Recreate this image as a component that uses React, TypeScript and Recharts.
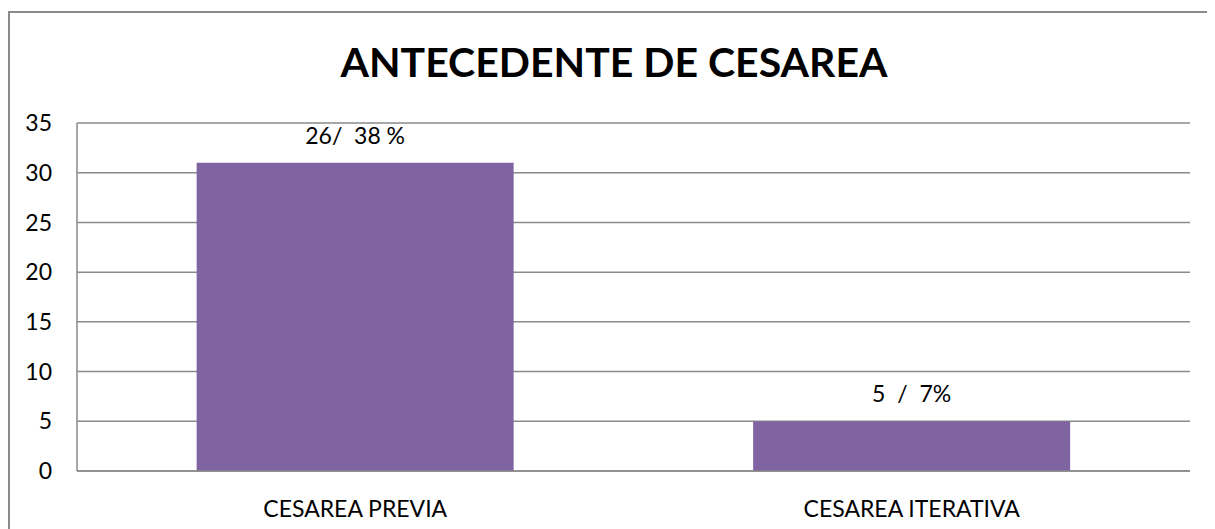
import React from "react";
import {
  BarChart,
  Bar,
  XAxis,
  YAxis,
  CartesianGrid,
  LabelList,
} from "recharts";

const categories = ["CESAREA PREVIA", "CESAREA ITERATIVA"];
const values = [31, 5];
const barLabels = ["26/  38 %", "5  /  7%"];
const yTicks = [0, 5, 10, 15, 20, 25, 30, 35];

const data = categories.map((name, i) => ({
  name,
  value: values[i],
  label: barLabels[i],
}));

const FONT = "Lato, 'Open Sans', sans-serif";
const GRID = "#8a8a8a";
const FS = 23;

// keeps the double spaces of the original labels
function BarValueLabel(props: any) {
  const { x, y, width, value } = props;
  return (
    <text
      x={Number(x) + Number(width) / 2}
      y={Number(y) - 19}
      textAnchor="middle"
      fill="#000"
      fontSize={FS}
      fontFamily={FONT}
      xmlSpace="preserve"
      style={{ whiteSpace: "pre" }}
    >
      {value}
    </text>
  );
}

export default function App() {
  return (
    <div
      style={{
        position: "relative",
        width: 1207,
        height: 521,
        fontFamily: FONT,
      }}
    >
      <div
        style={{
          position: "absolute",
          left: 0,
          top: 3,
          width: 1207,
          height: 518,
          borderLeft: `2px solid ${GRID}`,
          borderTop: `2px solid ${GRID}`,
          boxSizing: "border-box",
        }}
      />
      <div
        style={{
          position: "absolute",
          left: 0,
          width: 1212,
          top: 30,
          textAlign: "center",
          fontWeight: 700,
          fontSize: 41,
          lineHeight: "48px",
          color: "#000",
        }}
      >
        ANTECEDENTE DE CESAREA
      </div>
      <BarChart
        width={1207}
        height={521}
        data={data}
        margin={{ top: 115, right: 25, bottom: 0, left: 0 }}
        barCategoryGap="21.5%"
        style={{ position: "absolute", left: 0, top: 0 }}
      >
        <CartesianGrid vertical={false} stroke={GRID} strokeWidth={1.5} />
        <XAxis
          dataKey="name"
          height={58}
          tickLine={false}
          tickSize={0}
          tickMargin={30}
          axisLine={{ stroke: GRID, strokeWidth: 1.5 }}
          tick={{ fill: "#000", fontSize: FS, fontFamily: FONT }}
        />
        <YAxis
          width={69}
          domain={[0, 35]}
          ticks={yTicks}
          interval={0}
          tickLine={false}
          tickSize={0}
          tickMargin={25}
          axisLine={{ stroke: GRID, strokeWidth: 1.5 }}
          tick={{ fill: "#000", fontSize: FS, fontFamily: FONT }}
        />
        <Bar dataKey="value" fill="#8064A2" isAnimationActive={false}>
          <LabelList dataKey="label" content={BarValueLabel} />
        </Bar>
      </BarChart>
    </div>
  );
}
